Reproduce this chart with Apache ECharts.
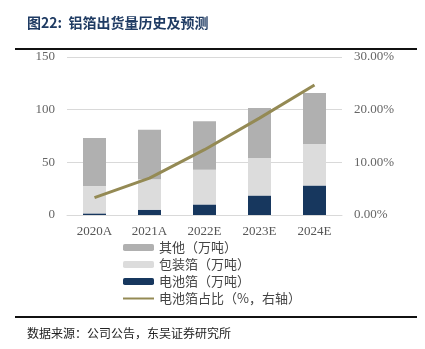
<!DOCTYPE html>
<html><head><meta charset="utf-8">
<script src="https://cdn.jsdelivr.net/npm/echarts@6/dist/echarts.min.js"></script>
<style>html,body{margin:0;padding:0;background:#fff}#c{width:425px;height:349px}</style>
</head><body><div id="c"></div>
<script>
const categories = ['2020A','2021A','2022E','2023E','2024E'];
const batteryFoil = [1.5, 5, 10, 18.5, 28];
const packagingFoil = [26, 29, 33, 35.7, 39.5];
const otherFoil = [45.5, 47, 46, 47.3, 48.3];
const batteryShare = [3.3, 7.0, 12.4, 18.4, 24.7];
const leftTicks = [0, 50, 100, 150];
const rightTicks = [0, 10, 20, 30];

const chart = echarts.init(document.getElementById('c'), null, {renderer:'canvas'});
const serif = '"Liberation Serif","DejaVu Serif",serif';
const cjk = '"Noto Sans CJK SC","Noto Sans CJK JP",sans-serif';
chart.setOption({
  animation:false,
  backgroundColor:'#fff',
  title:[{text:'图22:  铝箔出货量历史及预测', left:22, top:11,
    textStyle:{fontFamily:cjk, fontSize:14, fontWeight:'bold', color:'#1f3b63'}},
    {text:'数据来源：公司公告，东吴证券研究所', left:22, top:322,
    textStyle:{fontFamily:cjk, fontSize:12, fontWeight:'normal', color:'#222'}}],
  graphic:[
    {type:'rect', shape:{x:15,y:48,width:402,height:2}, style:{fill:'#111'}},
    {type:'rect', shape:{x:15,y:316,width:402,height:2}, style:{fill:'#111'}}
  ],
  grid:{left:67, right:83, top:57, bottom:134},
  legend:{orient:'vertical', left:117, top:236, itemWidth:31, itemHeight:7, itemGap:4,
    textStyle:{fontFamily:cjk, fontSize:13, color:'#444'},
    data:['其他（万吨）','包装箔（万吨）','电池箔（万吨）',
      {name:'电池箔占比（%，右轴）', itemStyle:{opacity:0}}]},
  xAxis:{type:'category', data:categories,
    axisLine:{lineStyle:{color:'#d9d9d9'}}, axisTick:{show:false},
    axisLabel:{fontFamily:serif, fontSize:13, color:'#555', margin:10}},
  yAxis:[
    {type:'value', min:0, max:150, interval:50,
      splitLine:{lineStyle:{color:'#d9d9d9'}},
      axisLabel:{fontFamily:serif, fontSize:13, color:'#666', margin:12}},
    {type:'value', min:0, max:30, interval:10, position:'right',
      splitLine:{show:false},
      axisLabel:{fontFamily:serif, fontSize:13, color:'#666', margin:12,
        formatter:v=>v.toFixed(2)+'%'}}
  ],
  series:[
    {name:'电池箔（万吨）', type:'bar', stack:'a', barWidth:23, data:batteryFoil, itemStyle:{color:'#17375e'}},
    {name:'包装箔（万吨）', type:'bar', stack:'a', barWidth:23, data:packagingFoil, itemStyle:{color:'#dcdcdc'}},
    {name:'其他（万吨）', type:'bar', stack:'a', barWidth:23, data:otherFoil, itemStyle:{color:'#b0b0b0'}},
    {name:'电池箔占比（%，右轴）', type:'line', yAxisIndex:1, data:batteryShare, symbol:'none',
      lineStyle:{color:'#948a54', width:3}, itemStyle:{color:'#948a54'}}
  ]
});
</script></body></html>
